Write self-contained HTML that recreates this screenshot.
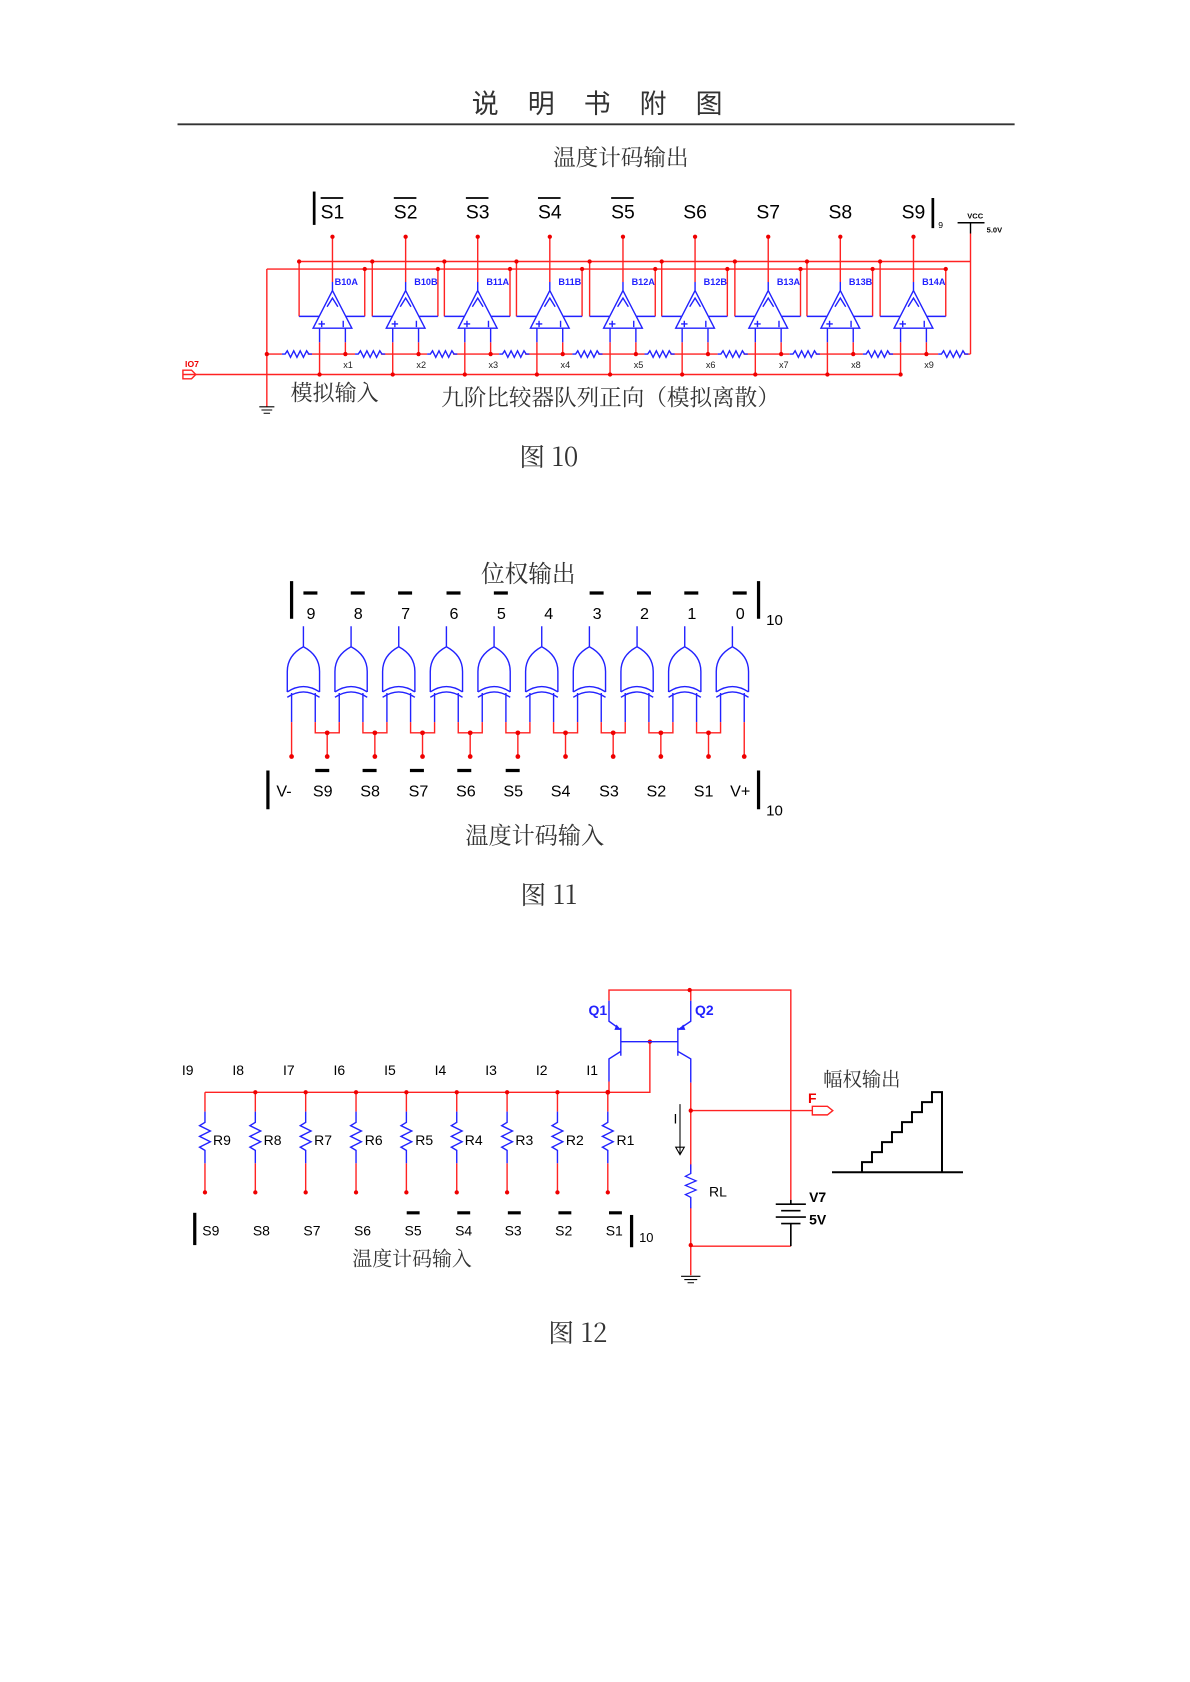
<!DOCTYPE html>
<html><head><meta charset="utf-8"><style>
html,body{margin:0;padding:0;background:#fff}
svg{display:block}
text{font-family:"Liberation Sans","Noto Sans CJK SC",sans-serif}
.cj{font-family:"Noto Serif CJK SC","Liberation Serif",serif;fill:#333}
.r{stroke:#f22;stroke-width:1.3;fill:none}
.b{stroke:#22f;stroke-width:1.3;fill:none}
.k{stroke:#000;fill:none}
.d{fill:#e00}
</style></head><body>
<svg width="1190" height="1682" viewBox="0 0 1106 1563" preserveAspectRatio="none" xmlns="http://www.w3.org/2000/svg">
<defs>
<g id="oa">
<path class="b" d="M0,-8V0 M0,0L18,35L-18,35Z M-5,15L0,7L5,15 M-12,35V48 M12,35V48 M-31,24H-12 M12,24H30"/>
<path class="b" d="M-13,31h6 M-10,28v6 M10,28v6"/>
</g>
<path id="rz" class="b" d="M-12,0h3l2,-3l3,6l3,-6l3,6l3,-6l3,6l3,-6l2,3h3"/>
<g id="xg">
<path class="b" d="M0,0V19 M-15,61V42Q-15,27 0,19Q15,27 15,42V61 M-15,61Q0,51 15,61 M-15,66Q0,56 15,66 M-11,62V89 M11,62V89"/>
</g>
<path id="rv" class="b" d="M0,0v10l-5,3l10,5l-10,5l10,5l-10,5l5,3v12"/>
</defs>

<!-- header -->
<g class="cj" font-size="25" text-anchor="middle">
<text x="451" y="105">说</text><text x="503" y="105">明</text><text x="555" y="105">书</text><text x="607" y="105">附</text><text x="659" y="105">图</text>
</g>
<line x1="165" y1="115.5" x2="943" y2="115.5" stroke="#333" stroke-width="1.8"/>

<!-- FIG 10 -->
<text class="cj" x="577" y="154" font-size="21" text-anchor="middle">温度计码输出</text>
<line x1="292" y1="178" x2="292" y2="209" stroke="#000" stroke-width="2.5"/>
<line x1="867" y1="184" x2="867" y2="212" stroke="#000" stroke-width="2.5"/>
<text x="872" y="212" font-size="8">9</text>
<g font-size="18" text-anchor="middle">
<text x="309" y="203">S1</text><text x="377" y="203">S2</text><text x="444" y="203">S3</text><text x="511" y="203">S4</text><text x="579" y="203">S5</text><text x="646" y="203">S6</text><text x="714" y="203">S7</text><text x="781" y="203">S8</text><text x="849" y="203">S9</text>
</g>
<path class="k" stroke-width="1.6" d="M298,184h21 M366,184h21 M433,184h21 M500,184h21 M568,184h21"/>
<!-- VCC -->
<path class="k" stroke-width="1.3" d="M890,207h25 M902,207v10"/>
<text x="899" y="203" font-size="7" font-weight="bold">VCC</text>
<text x="917" y="216" font-size="7" font-weight="bold">5.0V</text>
<!-- rails -->
<path class="r" d="M278,243H902 M902,217V329 M248,250H878 M248,250V378 M170,348H835"/>
<path class="r" d="M248,329H902"/>
<path class="k" stroke-width="1" d="M241,378h14 M243,381h10 M245,384h6"/>
<path class="r" stroke-width="1.2" d="M170,344h8l4,4l-4,4h-8z"/>
<text x="172" y="341" font-size="8" font-weight="bold" fill="#e00">IO7</text>

<!-- opamps -->
<g id="o1" transform="translate(309,0)">
<path class="r" d="M0,220V262 M-31,243V294 M30,250V294 M-12,318V348 M12,318V329"/>
<circle class="d" cx="0" cy="220" r="2"/><circle class="d" cx="-31" cy="243" r="2"/><circle class="d" cx="30" cy="250" r="2"/><circle class="d" cx="-12" cy="348" r="2"/><circle class="d" cx="12" cy="329" r="2"/>
<rect x="-47" y="325" width="24" height="8" fill="#fff"/><use href="#rz" transform="translate(-35,329)"/>
<use href="#oa" transform="translate(0,270)"/>
</g>
<use href="#o1" transform="translate(68,0)"/>
<use href="#o1" transform="translate(135,0)"/>
<use href="#o1" transform="translate(202,0)"/>
<use href="#o1" transform="translate(270,0)"/>
<use href="#o1" transform="translate(337,0)"/>
<use href="#o1" transform="translate(405,0)"/>
<use href="#o1" transform="translate(472,0)"/>
<use href="#o1" transform="translate(540,0)"/>
<rect x="872" y="325" width="24" height="8" fill="#fff"/><use href="#rz" transform="translate(884,329)"/>
<circle class="d" cx="248" cy="329" r="2"/>
<g font-size="8.5" font-weight="bold" fill="#22f">
<text x="311" y="265">B10A</text><text x="385" y="265">B10B</text><text x="452" y="265">B11A</text><text x="519" y="265">B11B</text><text x="587" y="265">B12A</text><text x="654" y="265">B12B</text><text x="722" y="265">B13A</text><text x="789" y="265">B13B</text><text x="857" y="265">B14A</text>
</g>
<g font-size="8.5" fill="#222">
<text x="319" y="342">x1</text><text x="387" y="342">x2</text><text x="454" y="342">x3</text><text x="521" y="342">x4</text><text x="589" y="342">x5</text><text x="656" y="342">x6</text><text x="724" y="342">x7</text><text x="791" y="342">x8</text><text x="859" y="342">x9</text>
</g>
<text class="cj" x="270" y="372" font-size="20.5">模拟输入</text>
<text class="cj" x="410" y="377" font-size="21">九阶比较器队列正向（模拟离散）</text>
<text class="cj" x="510" y="433" font-size="24" text-anchor="middle">图 10</text>

<!-- FIG 11 -->
<text class="cj" x="491" y="541" font-size="22" text-anchor="middle">位权输出</text>
<line x1="271" y1="540" x2="271" y2="575" stroke="#000" stroke-width="3"/>
<line x1="705" y1="540" x2="705" y2="575" stroke="#000" stroke-width="3"/>
<text x="712" y="581" font-size="14">10</text>
<g font-size="15" text-anchor="middle">
<text x="289" y="575">9</text><text x="333" y="575">8</text><text x="377" y="575">7</text><text x="422" y="575">6</text><text x="466" y="575">5</text><text x="510" y="575">4</text><text x="555" y="575">3</text><text x="599" y="575">2</text><text x="643" y="575">1</text><text x="688" y="575">0</text>
</g>
<path stroke="#000" stroke-width="3" d="M282,551h13 M326,551h13 M370,551h13 M415,551h13 M459,551h13 M548,551h13 M592,551h13 M636,551h13 M681,551h13"/>
<g transform="translate(0,582)">
<use href="#xg" x="282"/><use href="#xg" x="326.3"/><use href="#xg" x="370.6"/><use href="#xg" x="414.9"/><use href="#xg" x="459.2"/><use href="#xg" x="503.5"/><use href="#xg" x="547.8"/><use href="#xg" x="592.1"/><use href="#xg" x="636.4"/><use href="#xg" x="680.7"/>
</g>
<g id="j1">
<path class="r" d="M293,671V681H315.3V671 M304.1,681V703"/>
<circle class="d" cx="304.1" cy="681" r="2.2"/><circle class="d" cx="304.1" cy="703" r="2.2"/>
</g>
<use href="#j1" x="44.3"/><use href="#j1" x="88.6"/><use href="#j1" x="132.9"/><use href="#j1" x="177.2"/><use href="#j1" x="221.5"/><use href="#j1" x="265.8"/><use href="#j1" x="310.1"/><use href="#j1" x="354.4"/>
<path class="r" d="M271,671V703 M691.7,671V703"/>
<circle class="d" cx="271" cy="703" r="2.2"/><circle class="d" cx="691.7" cy="703" r="2.2"/>
<line x1="249" y1="716" x2="249" y2="752" stroke="#000" stroke-width="3"/>
<line x1="705" y1="716" x2="705" y2="752" stroke="#000" stroke-width="3"/>
<text x="712" y="758" font-size="14">10</text>
<g font-size="15" text-anchor="middle">
<text x="264" y="740">V-</text><text x="300" y="740">S9</text><text x="344" y="740">S8</text><text x="389" y="740">S7</text><text x="433" y="740">S6</text><text x="477" y="740">S5</text><text x="521" y="740">S4</text><text x="566" y="740">S3</text><text x="610" y="740">S2</text><text x="654" y="740">S1</text><text x="688" y="740">V+</text>
</g>
<path stroke="#000" stroke-width="3" d="M293,716h13 M337,716h13 M381,716h13 M425,716h13 M470,716h13"/>
<text class="cj" x="497" y="784" font-size="21.5" text-anchor="middle">温度计码输入</text>
<text class="cj" x="510" y="840" font-size="24" text-anchor="middle">图 11</text>

<!-- FIG 12 -->
<g font-size="13">
<text x="169" y="999">I9</text><text x="216" y="999">I8</text><text x="263" y="999">I7</text><text x="310" y="999">I6</text><text x="357" y="999">I5</text><text x="404" y="999">I4</text><text x="451" y="999">I3</text><text x="498" y="999">I2</text><text x="545" y="999">I1</text>
</g>
<path class="r" d="M190.5,1015H604V968"/>
<g id="rc">
<path class="r" d="M190.5,1015V1033 M190.5,1081V1108"/>
<use href="#rv" transform="translate(190.5,1033)"/>
<circle class="d" cx="190.5" cy="1108" r="2"/>
</g>
<use href="#rc" x="46.8"/><use href="#rc" x="93.6"/><use href="#rc" x="140.4"/><use href="#rc" x="187.2"/><use href="#rc" x="234"/><use href="#rc" x="280.8"/><use href="#rc" x="327.6"/><use href="#rc" x="374.4"/>
<g class="d">
<circle cx="237.3" cy="1015" r="2"/><circle cx="284.1" cy="1015" r="2"/><circle cx="330.9" cy="1015" r="2"/><circle cx="377.7" cy="1015" r="2"/><circle cx="424.5" cy="1015" r="2"/><circle cx="471.3" cy="1015" r="2"/><circle cx="518.1" cy="1015" r="2"/><circle cx="564.9" cy="1015" r="2"/><circle cx="604" cy="968" r="2"/>
</g>
<g font-size="13">
<text x="198" y="1064">R9</text><text x="245" y="1064">R8</text><text x="292" y="1064">R7</text><text x="339" y="1064">R6</text><text x="386" y="1064">R5</text><text x="432" y="1064">R4</text><text x="479" y="1064">R3</text><text x="526" y="1064">R2</text><text x="573" y="1064">R1</text>
<text x="188" y="1148">S9</text><text x="235" y="1148">S8</text><text x="282" y="1148">S7</text><text x="329" y="1148">S6</text><text x="376" y="1148">S5</text><text x="423" y="1148">S4</text><text x="469" y="1148">S3</text><text x="516" y="1148">S2</text><text x="563" y="1148">S1</text>
</g>
<line x1="181" y1="1127" x2="181" y2="1157" stroke="#000" stroke-width="3"/>
<line x1="587" y1="1129" x2="587" y2="1159" stroke="#000" stroke-width="3"/>
<text x="594" y="1154" font-size="12">10</text>
<path stroke="#000" stroke-width="3" d="M378,1127h12 M425,1127h12 M472,1127h12 M519,1127h12 M566,1127h12"/>
<text class="cj" x="383" y="1176" font-size="18.5" text-anchor="middle">温度计码输入</text>

<!-- transistors -->
<path class="r" d="M566,930V920H735V1115 M642,920V930 M735,1158H642"/>
<circle class="d" cx="641" cy="920" r="2"/>
<path class="b" d="M566,930V949L577,957 M577,955V981 M577,968H604 M577,977L566,984V1005 M604,968H630 M630,955V981 M630,957L642,949V930 M630,977L642,984V1006"/>
<path d="M573,952l4,5l-6,0z M635,952l-4,5l6,0z" fill="#22f"/>
<path class="r" d="M566,1005V1015 M642,1006V1087 M642,1032H755 M642,1122V1185"/>
<circle class="d" cx="642" cy="1032" r="2"/><circle class="d" cx="564.9" cy="1015" r="2.2"/><circle class="d" cx="642" cy="1157" r="2"/>
<use href="#rv" transform="translate(642,1082) scale(1,0.85)"/>
<path class="r" stroke-width="1.2" d="M755,1028h14l5,4l-5,4h-14z"/>
<text x="751" y="1025" font-size="13" font-weight="bold" fill="#e00">F</text>
<text x="547" y="943" font-size="13" font-weight="bold" fill="#22f">Q1</text>
<text x="646" y="943" font-size="13" font-weight="bold" fill="#22f">Q2</text>
<text x="659" y="1112" font-size="13">RL</text>
<text x="626" y="1044" font-size="13">I</text>
<path class="k" d="M632,1026V1072"/><path d="M628,1066h8l-4,7z" fill="none" stroke="#000"/>
<path class="k" stroke-width="1.5" d="M721,1119h28 M726,1125h18 M721,1131h28 M726,1137h18 M735,1115v4 M735,1137v21"/>
<text x="752" y="1117" font-size="13" font-weight="bold">V7</text>
<text x="752" y="1138" font-size="13" font-weight="bold">5V</text>
<path class="k" stroke-width="1" d="M633,1186h18 M636,1189h12 M639,1192h6"/>
<text class="cj" x="765" y="1009" font-size="18">幅权输出</text>
<g transform="scale(0.9294)">
<path class="k" stroke="#333" stroke-width="2" d="M832,1172H963 M862,1172v-10h10v-10h10v-10h10v-10h10v-10h10v-10h10v-10h10v-10h10V1172"/>
</g>
<text class="cj" x="537" y="1247" font-size="24" text-anchor="middle">图 12</text>
</svg>
</body></html>
